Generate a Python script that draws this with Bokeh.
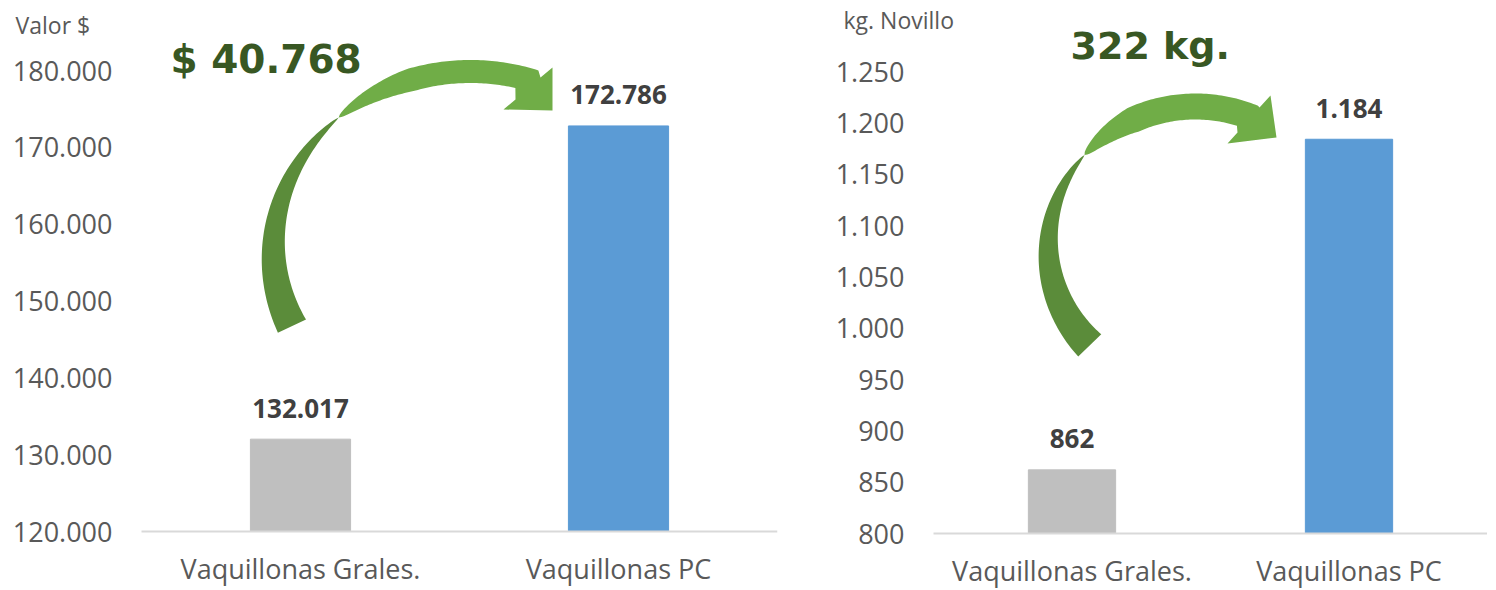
import numpy as np
from bokeh.plotting import figure
from bokeh.models import Range1d, FixedTicker, Label, ColumnDataSource
from bokeh.layouts import row
from bokeh.embed import file_html
from bokeh.resources import INLINE
from bokeh.core.properties import value

# ---------------- data ----------------
categories = ["Vaquillonas Grales.", "Vaquillonas PC"]
bar_colors = ["#BFBFBF", "#5B9BD5"]

valor_values = [132017, 172786]
valor_ticks = [120000, 130000, 140000, 150000, 160000, 170000, 180000]
valor_tick_labels = ["120.000", "130.000", "140.000", "150.000", "160.000", "170.000", "180.000"]
valor_title = "Valor $"
valor_diff = "$ 40.768"

kg_values = [862, 1184]
kg_ticks = [800, 850, 900, 950, 1000, 1050, 1100, 1150, 1200, 1250]
kg_tick_labels = ["800", "850", "900", "950", "1.000", "1.050", "1.100", "1.150", "1.200", "1.250"]
kg_title = "kg. Novillo"
kg_diff = "322 kg."


def fmt(v):
    return f"{v:,}".replace(",", ".")


TXT = "#595959"
LBL = "#404040"
DIFF = "#385723"
DARK_G = "#5B8C3A"
LIGHT_G = "#70AD47"
FONT = "Open Sans"
FIG_H = 590


def make_chart(fig_x0, plot_l, plot_r, plot_b, top_px, ticks, tick_labels, values,
               title, title_px, diff, diff_px, arrow, right_border):
    # plot_l / plot_r / plot_b: pixel extent of the category area (x = 0 .. 2, y >= ticks[0])
    plot_w = plot_r - plot_l
    ppu = (plot_b - top_px) / (ticks[-1] - ticks[0])
    base = ticks[0]

    def X(px):
        return (px - plot_l) / plot_w * 2.0

    def Y(py):
        return base + (plot_b - py) / ppu

    p = figure(frame_width=plot_r - fig_x0, frame_height=FIG_H,
               x_range=Range1d(X(fig_x0), 2), y_range=Range1d(Y(FIG_H), Y(0)),
               output_backend="svg", toolbar_location=None,
               min_border_left=0, min_border_top=0,
               min_border_right=right_border, min_border_bottom=0)
    p.outline_line_color = None
    p.grid.grid_line_color = None
    p.background_fill_color = "white"
    p.border_fill_color = "white"

    xs = [i + 0.5 for i in range(len(categories))]
    src = ColumnDataSource(dict(x=xs, top=values, color=bar_colors,
                                label=[fmt(v) for v in values]))
    p.vbar(x="x", top="top", bottom=base, width=0.315, color="color", source=src)
    p.text(x="x", y="top", text="label", source=src, text_align="center",
           text_baseline="alphabetic", y_offset=-31,
           text_font=value(FONT), text_font_style="bold",
           text_font_size="26px", text_color=LBL)

    # axes (drawn at fixed data locations inside the frame)
    p.xaxis.fixed_location = base
    p.xaxis.bounds = (0, 2)
    p.xaxis.ticker = FixedTicker(ticks=xs)
    p.xaxis.major_label_overrides = {x: c for x, c in zip(xs, categories)}
    p.xaxis.axis_line_color = "#D9D9D9"
    p.xaxis.axis_line_width = 2
    p.xaxis.major_tick_line_color = None
    p.xaxis.minor_tick_line_color = None
    p.xaxis.major_tick_out = 0
    p.xaxis.major_tick_in = 0
    p.xaxis.major_label_standoff = 18
    p.xaxis.major_label_text_font = FONT
    p.xaxis.major_label_text_font_size = "27px"
    p.xaxis.major_label_text_color = TXT

    p.yaxis.fixed_location = 0
    p.yaxis.ticker = FixedTicker(ticks=ticks)
    p.yaxis.major_label_overrides = {t: l for t, l in zip(ticks, tick_labels)}
    p.yaxis.axis_line_color = None
    p.yaxis.major_tick_line_color = None
    p.yaxis.minor_tick_line_color = None
    p.yaxis.major_tick_out = 0
    p.yaxis.major_tick_in = 0
    p.yaxis.major_label_standoff = 29
    p.yaxis.major_label_text_font = FONT
    p.yaxis.major_label_text_font_size = "27px"
    p.yaxis.major_label_text_color = TXT

    # axis title (horizontal, top-left)
    p.add_layout(Label(x=X(title_px[0]), y=Y(title_px[1]), text=title,
                       text_font=FONT, text_font_size="23px", text_color=TXT,
                       text_align="left", text_baseline="middle"))
    # difference annotation
    p.add_layout(Label(x=X(diff_px[0]), y=Y(diff_px[1]), text=diff,
                       text_font="DejaVu Sans", text_font_style="bold",
                       text_font_size=diff_px[2], text_color=DIFF,
                       text_align="left", text_baseline="alphabetic"))

    # curved arrow (decoration), geometry in pixels relative to arc centre
    (cx, cy, rx, ry, th_tail, w_tail, th_pinch, w_up, th_full, th_oe, th_ie, head) = arrow
    d = np.radians
    th = np.linspace(th_tail, th_pinch, 80)
    w = w_tail * ((th - th_pinch) / (th_tail - th_pinch)) ** 0.7
    ox = cx + (rx + w / 2) * np.cos(d(th)); oy = cy - (ry + w / 2) * np.sin(d(th))
    ix = cx + (rx - w / 2) * np.cos(d(th)); iy = cy - (ry - w / 2) * np.sin(d(th))
    lx = np.concatenate([ox, ix[::-1]]); ly = np.concatenate([oy, iy[::-1]])
    p.patch([X(v) for v in lx], [Y(v) for v in ly], fill_color=DARK_G, line_color=None)

    tho = np.linspace(th_pinch, th_oe, 80)
    wo = w_up * np.clip((th_pinch - tho) / (th_pinch - th_full), 0, 1) ** 0.6
    uox = cx + (rx + wo / 2) * np.cos(d(tho)); uoy = cy - (ry + wo / 2) * np.sin(d(tho))
    thi = np.linspace(th_ie, th_pinch, 80)
    wi = w_up * np.clip((th_pinch - thi) / (th_pinch - th_full), 0, 1) ** 0.6
    uix = cx + (rx - wi / 2) * np.cos(d(thi)); uiy = cy - (ry - wi / 2) * np.sin(d(thi))
    hx = np.array([cx + a for a, b in head]); hy = np.array([cy + b for a, b in head])
    ux = np.concatenate([uox, hx, uix]); uy = np.concatenate([uoy, hy, uiy])
    p.patch([X(v) for v in ux], [Y(v) for v in uy], fill_color=LIGHT_G, line_color=None)
    return p


left_arrow = (470, 250, 197, 179, 205, 31, 132, 23, 108, 71, 76,
              [(70, -173), (82, -183), (82, -140), (33, -141), (45, -151)])
right_arrow = (1195, 247, 147, 141, 224, 32, 139, 26, 115, 67, 72,
               [(64, -140), (75, -152), (81, -110), (32, -104), (42, -115)])

p1 = make_chart(0, 141, 777, 531, 70, valor_ticks, valor_tick_labels, valor_values,
                valor_title, (15, 24), valor_diff, (170, 59, "39px"), left_arrow, 23)
p2 = make_chart(800, 933, 1487, 533, 71, kg_ticks, kg_tick_labels, kg_values,
                kg_title, (843, 19), kg_diff, (1070, 45, "38px"), right_arrow, 0)

layout = row(p1, p2)
open("out.html", "w").write(file_html(layout, INLINE))
